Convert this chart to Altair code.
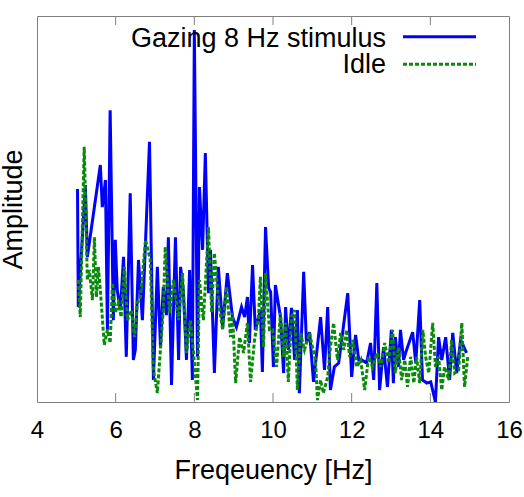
import altair as alt
import pandas as pd

# Spectrum while gazing at the 8 Hz stimulus (frequency in Hz, normalised amplitude)
gaze_freq = [5.03, 5.05, 5.23, 5.28, 5.61, 5.66, 5.74, 5.79, 5.86, 5.94, 5.99, 6.04, 6.12,
             6.20, 6.27, 6.37, 6.45, 6.50, 6.58, 6.68, 6.86, 6.96, 7.06, 7.14, 7.21, 7.29,
             7.34, 7.42, 7.52, 7.60, 7.65, 7.72, 7.80, 7.88, 7.95, 8.00, 8.08, 8.13, 8.21,
             8.28, 8.36, 8.41, 8.51, 8.61, 8.72, 8.84, 8.97, 9.07, 9.20, 9.28, 9.35, 9.40,
             9.48, 9.55, 9.68, 9.73, 9.81, 9.89, 9.94, 10.01, 10.06, 10.19, 10.27, 10.32,
             10.39, 10.47, 10.55, 10.62, 10.67, 10.78, 10.85, 10.93, 11.03, 11.11, 11.21,
             11.31, 11.39, 11.46, 11.56, 11.67, 11.90, 12.00, 12.10, 12.18, 12.26, 12.38,
             12.48, 12.56, 12.64, 12.71, 12.81, 12.91, 13.01, 13.06, 13.11, 13.19, 13.24,
             13.32, 13.37, 13.55, 13.63, 13.73, 13.80, 13.91, 14.01, 14.13, 14.21, 14.29,
             14.39, 14.49, 14.57, 14.67, 14.77, 14.92]
gaze_amp = [0.552, 0.246, 0.562, 0.376, 0.614, 0.505, 0.575, 0.187, 0.756, 0.212, 0.420,
            0.290, 0.238, 0.376, 0.117, 0.541, 0.109, 0.135, 0.368, 0.212, 0.674, 0.057,
            0.350, 0.142, 0.298, 0.225, 0.427, 0.044, 0.427, 0.109, 0.350, 0.290, 0.109,
            0.342, 0.057, 0.964, 0.117, 0.557, 0.394, 0.645, 0.282, 0.394, 0.075, 0.350,
            0.194, 0.334, 0.220, 0.194, 0.246, 0.220, 0.272, 0.153, 0.355, 0.187, 0.238,
            0.078, 0.453, 0.295, 0.285, 0.091, 0.303, 0.220, 0.075, 0.246, 0.135, 0.244,
            0.109, 0.238, 0.023, 0.337, 0.153, 0.181, 0.052, 0.127, 0.220, 0.083, 0.246,
            0.031, 0.091, 0.101, 0.282, 0.065, 0.174, 0.109, 0.109, 0.101, 0.153, 0.057,
            0.308, 0.031, 0.142, 0.039, 0.187, 0.049, 0.168, 0.091, 0.187, 0.109, 0.127,
            0.181, 0.101, 0.264, 0.057, 0.049, 0.052, 0.000, 0.168, 0.109, 0.168, 0.057,
            0.179, 0.075, 0.161, 0.127]

# Spectrum at rest
idle_freq = [5.05, 5.10, 5.20, 5.28, 5.33, 5.41, 5.46, 5.51, 5.56, 5.61, 5.71, 5.79, 5.86,
             5.92, 5.99, 6.07, 6.14, 6.22, 6.30, 6.40, 6.48, 6.55, 6.63, 6.76, 6.88, 6.96,
             7.06, 7.21, 7.26, 7.37, 7.47, 7.60, 7.70, 7.80, 7.90, 7.98, 8.08, 8.13, 8.23,
             8.36, 8.44, 8.51, 8.61, 8.72, 8.82, 8.92, 8.97, 9.05, 9.15, 9.25, 9.35, 9.43,
             9.53, 9.63, 9.68, 9.76, 9.81, 9.91, 9.99, 10.09, 10.19, 10.27, 10.32, 10.39,
             10.47, 10.55, 10.62, 10.70, 10.80, 10.93, 10.98, 11.08, 11.13, 11.21, 11.28,
             11.39, 11.46, 11.54, 11.64, 11.72, 11.80, 11.87, 11.95, 12.03, 12.13, 12.23,
             12.33, 12.43, 12.53, 12.64, 12.74, 12.84, 12.94, 13.04, 13.11, 13.19, 13.27,
             13.35, 13.42, 13.50, 13.58, 13.65, 13.73, 13.81, 13.88, 13.96, 14.06, 14.13,
             14.21, 14.29, 14.36, 14.47, 14.54, 14.62, 14.72, 14.80, 14.87, 14.95]
idle_amp = [0.316, 0.220, 0.661, 0.316, 0.342, 0.264, 0.427, 0.272, 0.350, 0.290, 0.148,
            0.187, 0.153, 0.308, 0.231, 0.256, 0.220, 0.350, 0.212, 0.238, 0.168, 0.256,
            0.272, 0.420, 0.368, 0.083, 0.023, 0.238, 0.402, 0.231, 0.316, 0.212, 0.334,
            0.127, 0.212, 0.127, 0.005, 0.316, 0.212, 0.453, 0.231, 0.386, 0.264, 0.187,
            0.298, 0.168, 0.231, 0.049, 0.168, 0.127, 0.205, 0.052, 0.161, 0.220, 0.324,
            0.142, 0.334, 0.187, 0.187, 0.091, 0.231, 0.117, 0.205, 0.052, 0.220, 0.238,
            0.031, 0.179, 0.135, 0.179, 0.153, 0.109, 0.005, 0.057, 0.023, 0.065, 0.142,
            0.205, 0.109, 0.179, 0.135, 0.187, 0.117, 0.161, 0.091, 0.109, 0.031, 0.117,
            0.091, 0.127, 0.091, 0.153, 0.101, 0.187, 0.075, 0.142, 0.057, 0.109, 0.039,
            0.117, 0.049, 0.117, 0.049, 0.187, 0.117, 0.075, 0.205, 0.091, 0.117, 0.031,
            0.091, 0.057, 0.161, 0.075, 0.083, 0.205, 0.039, 0.117]

tick_values = [4, 6, 8, 10, 12, 14, 16]
series_labels = ["Gazing 8 Hz stimulus", "Idle"]

FONT = "Liberation Sans"
BLUE = "#0000ff"
GREEN = "#0a8a0a"
FRAME = "#808080"
W, H = 472, 386

gaze = pd.DataFrame({"f": gaze_freq, "a": gaze_amp})
idle = pd.DataFrame({"f": idle_freq, "a": idle_amp})
ticks = pd.DataFrame({"f": tick_values[1:-1]})

x_scale = alt.Scale(domain=[4, 16], nice=False, zero=False)
y_scale = alt.Scale(domain=[0, 1], nice=False, zero=True)

x_axis = alt.Axis(
    values=tick_values, format="d", grid=False, ticks=False, tickSize=0, domain=False,
    labelFont=FONT, labelFontSize=24, labelColor="black", labelBaseline="alphabetic",
    labelPadding=35, labelFlush=False,
    title="Freqeuency [Hz]", titleFont=FONT, titleFontSize=27, titleFontWeight="normal",
    titleColor="black", titleBaseline="alphabetic", titleY=76, titleX=W / 2,
)
y_axis = alt.Axis(
    labels=False, ticks=False, domain=False, grid=False,
    title="Amplitude", titleFont=FONT, titleFontSize=27, titleFontWeight="normal",
    titleColor="black", titleBaseline="alphabetic", titleAngle=-90,
    titleX=-16, titleY=H / 2, titleAlign="center",
)

gaze_line = alt.Chart(gaze).mark_line(color=BLUE, strokeWidth=3, clip=True).encode(
    x=alt.X("f:Q", scale=x_scale, axis=x_axis),
    y=alt.Y("a:Q", scale=y_scale, axis=y_axis),
)
idle_line = alt.Chart(idle).mark_line(
    color=GREEN, strokeWidth=3, strokeDash=[4, 2], clip=True
).encode(
    x=alt.X("f:Q", scale=x_scale),
    y=alt.Y("a:Q", scale=y_scale),
)

# inward tick marks on the bottom and mirrored on the top border
bottom_ticks = alt.Chart(ticks).mark_rule(color=FRAME, strokeWidth=1).encode(
    x=alt.X("f:Q", scale=x_scale), y=alt.value(H), y2=alt.value(H - 9)
)
top_ticks = alt.Chart(ticks).mark_rule(color=FRAME, strokeWidth=1).encode(
    x=alt.X("f:Q", scale=x_scale), y=alt.value(0), y2=alt.value(9)
)

# key in the top-right corner: label on the left, line sample on the right
legend_src = pd.DataFrame({"label": series_labels})
key_gaze_text = alt.Chart(legend_src).transform_filter(
    alt.datum.label == series_labels[0]
).mark_text(font=FONT, fontSize=27, align="right", baseline="alphabetic", color="black").encode(
    text="label:N", x=alt.value(349), y=alt.value(30.5)
)
key_idle_text = alt.Chart(legend_src).transform_filter(
    alt.datum.label == series_labels[1]
).mark_text(font=FONT, fontSize=27, align="right", baseline="alphabetic", color="black").encode(
    text="label:N", x=alt.value(349), y=alt.value(56.5)
)
key_gaze_line = alt.Chart(legend_src).transform_filter(
    alt.datum.label == series_labels[0]
).mark_rule(color=BLUE, strokeWidth=3).encode(
    x=alt.value(366), x2=alt.value(439), y=alt.value(20.7)
)
key_idle_line = alt.Chart(legend_src).transform_filter(
    alt.datum.label == series_labels[1]
).mark_rule(color=GREEN, strokeWidth=3, strokeDash=[4, 2]).encode(
    x=alt.value(366), x2=alt.value(439), y=alt.value(48.3)
)

chart = alt.layer(
    gaze_line, idle_line, bottom_ticks, top_ticks,
    key_gaze_text, key_idle_text, key_gaze_line, key_idle_line,
).properties(
    width=W, height=H,
    autosize=alt.AutoSizeParams(type="none"),
    padding={"left": 37, "top": 16, "right": 15, "bottom": 95},
    background="white",
).configure_view(
    stroke=FRAME, strokeWidth=1
)

chart.save("out.html", embed_options={"renderer": "svg", "actions": False})
